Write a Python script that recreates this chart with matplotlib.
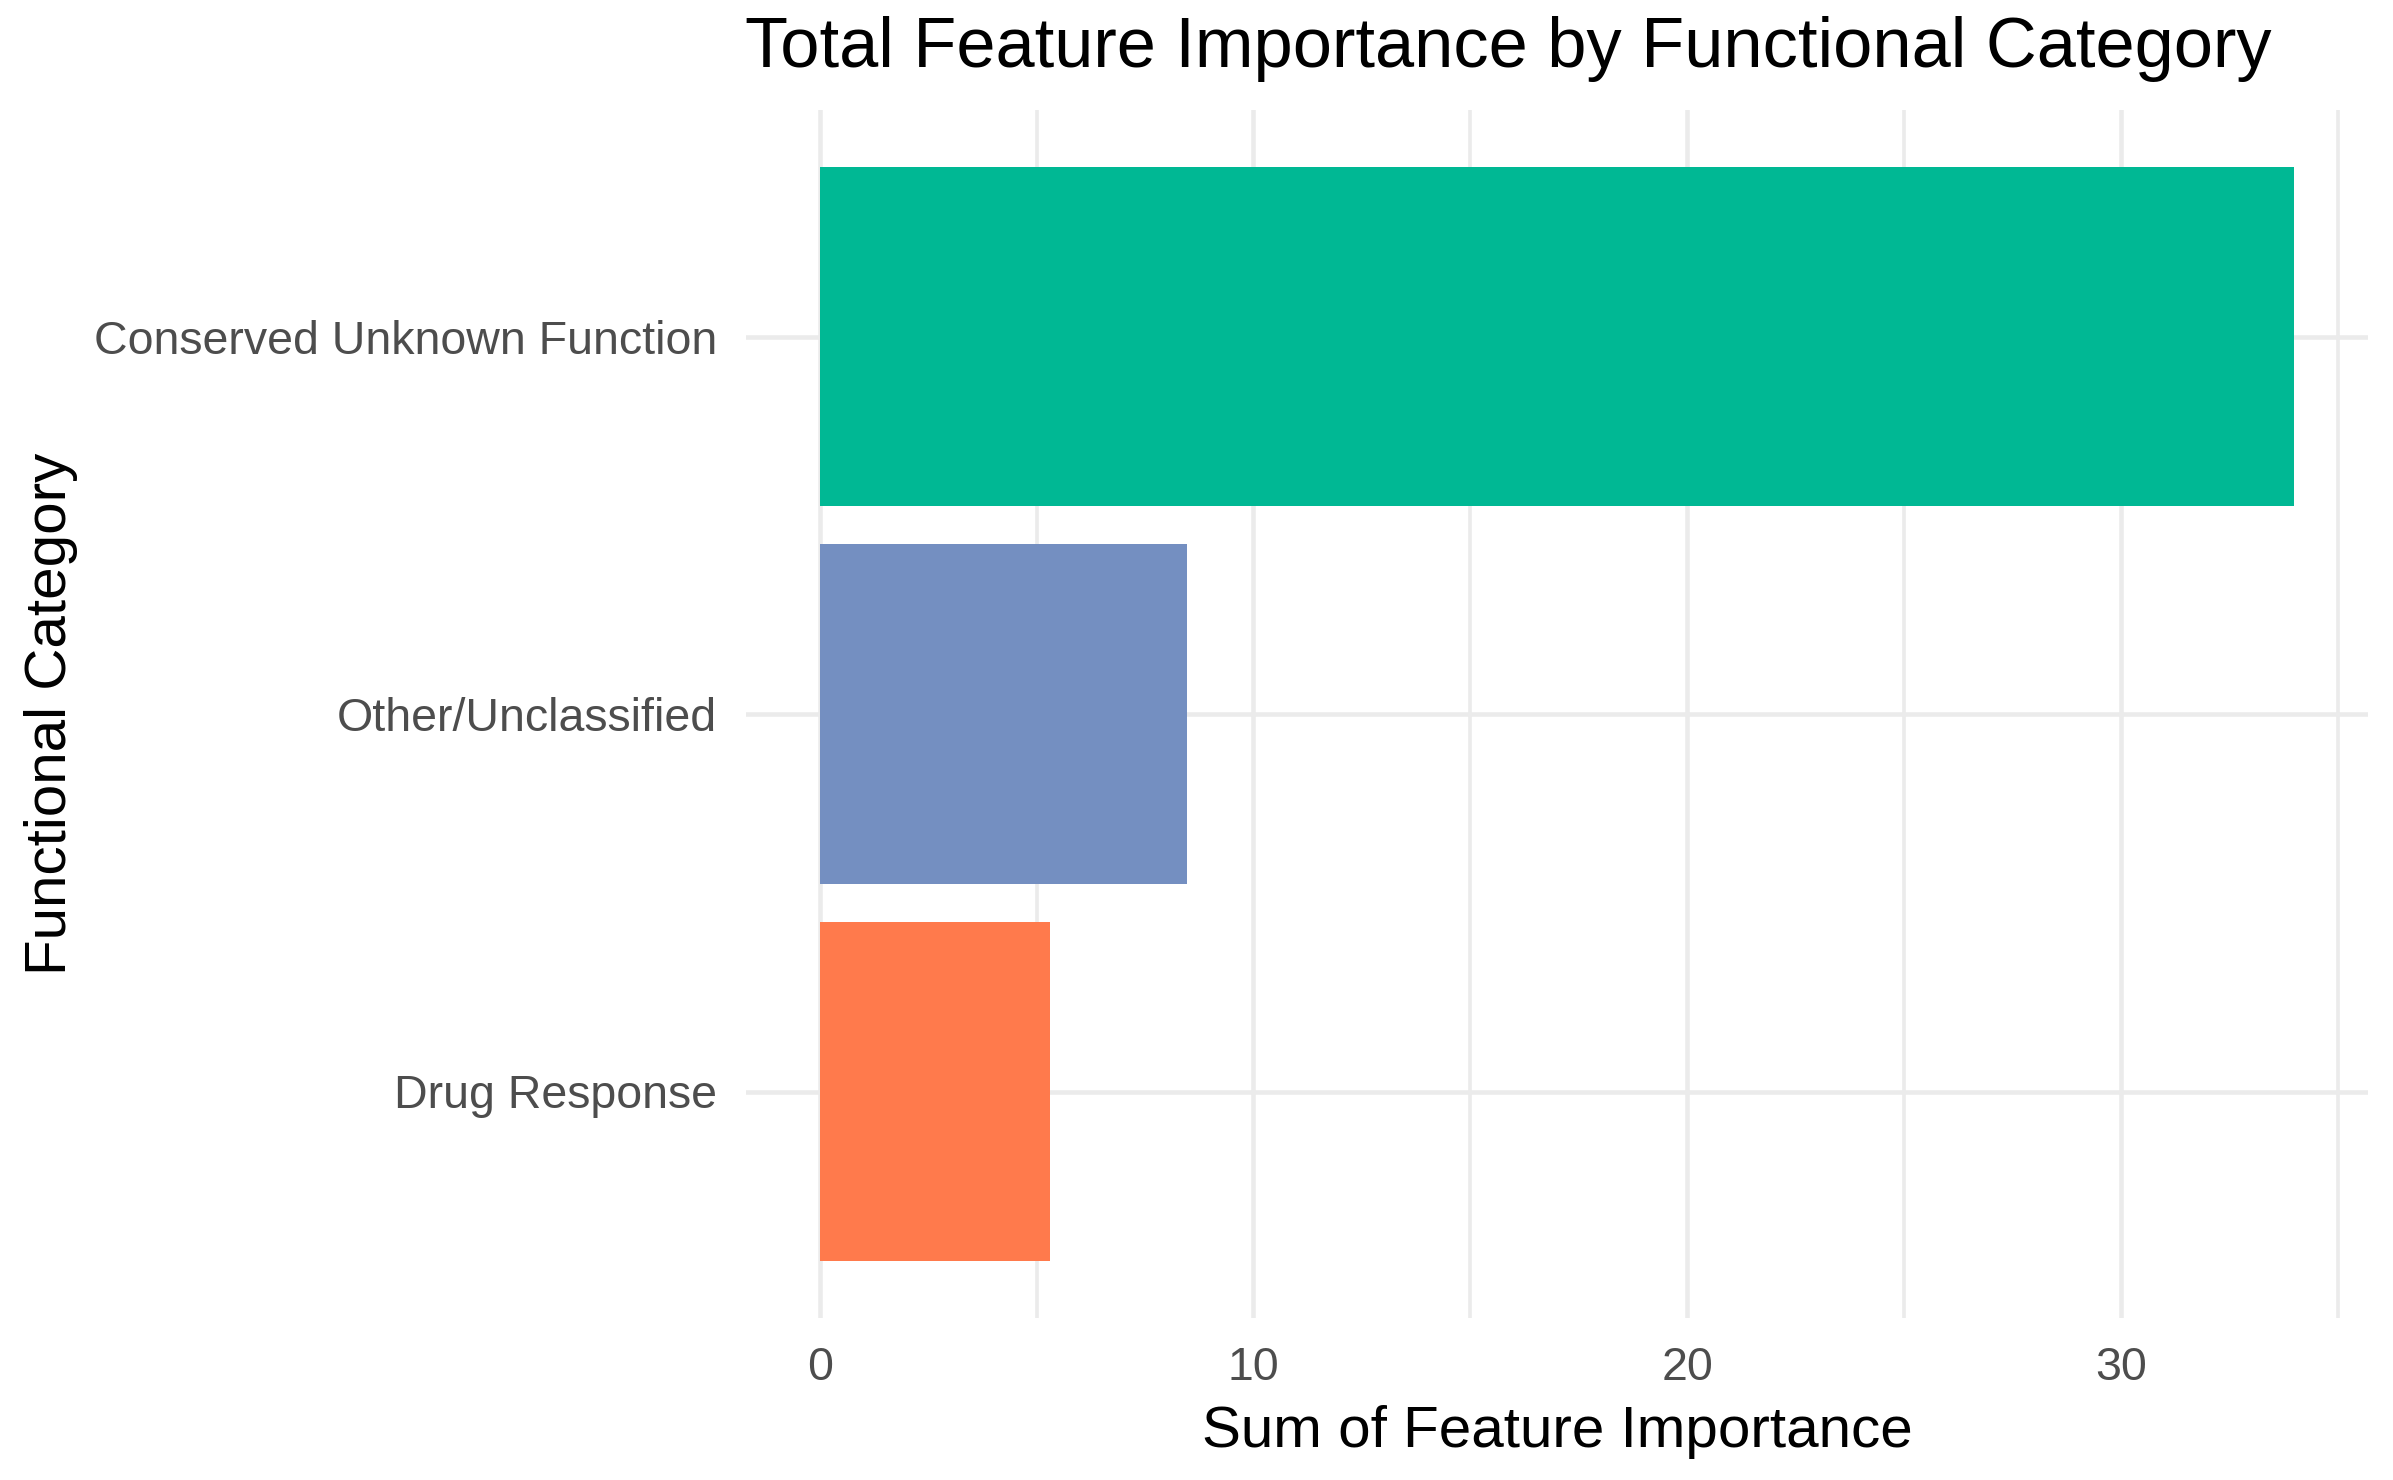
import matplotlib
matplotlib.use("Agg")
import matplotlib.pyplot as plt
import numpy as np

# data (bottom to top)
categories = ["Drug Response", "Other/Unclassified", "Conserved Unknown Function"]
importance = [5.30, 8.46, 34.0]
bar_colors = ["#FF7A4C", "#748FC1", "#00B894"]

x_major = [0, 10, 20, 30]
x_minor = [5, 15, 25, 35]

plt.rcParams['font.family'] = ['Liberation Sans', 'DejaVu Sans']

W, H = 2393, 1480
fig = plt.figure(figsize=(W / 100, H / 100), dpi=100)
fig.patch.set_facecolor("white")

# panel in pixel terms
left, right, top, bottom = 746, 2368, 110, 1318
ax = fig.add_axes([left / W, 1 - bottom / H, (right - left) / W, (bottom - top) / H])

ypos = np.arange(1, len(categories) + 1)
ax.barh(ypos, importance, height=0.9, color=bar_colors, zorder=3)

xmax = max(importance)
ax.set_xlim(-0.05 * xmax, xmax * 1.05)
ax.set_ylim(0.4, len(categories) + 0.6)

ax.set_xticks(x_major)
ax.set_xticks(x_minor, minor=True)
ax.set_yticks(ypos)
ax.set_yticklabels(categories)

ax.grid(which="major", axis="both", color="#EBEBEB", linewidth=3.3, zorder=0)
ax.grid(which="minor", axis="x", color="#EBEBEB", linewidth=2.6, zorder=0)
ax.set_axisbelow(True)

for s in ax.spines.values():
    s.set_visible(False)

ax.tick_params(axis="both", which="both", length=0, labelsize=33.5, labelcolor="#4D4D4D")
ax.tick_params(axis="y", pad=21)
ax.tick_params(axis="x", pad=20)

fig.text(745 / W, 1 - 67 / H, "Total Feature Importance by Functional Category",
         fontsize=50.7, color="black", ha="left", va="baseline")
fig.text((left + right) / 2 / W, 1 - 1447 / H, "Sum of Feature Importance",
         fontsize=42, color="black", ha="center", va="baseline")
fig.text(24 / W, 1 - (top + bottom) / 2 / H, "Functional Category",
         fontsize=42, color="black", rotation=90, ha="left", va="center")

plt.savefig("out.png", dpi=100, facecolor="white")
